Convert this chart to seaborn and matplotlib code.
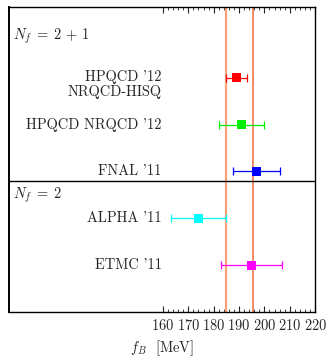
import numpy as np
import pandas as pd
import matplotlib
matplotlib.use("Agg")
import matplotlib.pyplot as plt
import seaborn as sns

# --- data ---
labels = ["HPQCD '12", "HPQCD NRQCD '12", "FNAL '11", "ALPHA '11", "ETMC '11"]
fB = [189.0, 191.0, 196.9, 174.0, 195.0]
err = [4.0, 9.0, 9.1, 11.0, 12.0]
rows = [5, 4, 3, 2, 1]
colors = ["#ff0000", "#00ee00", "#0000ff", "#00ffff", "#ff00ff"]
band = [185.0, 195.5]
xticks = [160, 170, 180, 190, 200, 210, 220]

df = pd.DataFrame({"label": labels, "fB": fB, "err": err, "row": rows})

sns.set_style("white")
plt.rcParams["font.family"] = "serif"
plt.rcParams["font.serif"] = ["cmr10", "DejaVu Serif"]
plt.rcParams["mathtext.fontset"] = "cm"
plt.rcParams["axes.formatter.use_mathtext"] = True

fig = plt.figure(figsize=(3.3, 3.57), dpi=100)
ax = fig.add_axes([0.028, 0.125, 0.927, 0.855])

# average band edges
ax.axvline(band[0], color="#f9a27a", lw=1.6, zorder=1)
ax.axvline(band[1], color="#ee6a3a", lw=1.1, zorder=1)

for i, r in df.iterrows():
    ax.errorbar(r["fB"], r["row"], xerr=r["err"], fmt="none", ecolor=colors[i],
                elinewidth=0.9, capsize=2.8, capthick=0.9, zorder=2)
sns.scatterplot(data=df, x="fB", y="row", hue="label", palette=colors, marker="s",
                s=38, edgecolor="none", legend=False, ax=ax, zorder=3)

# labels
fs = 10.4
for i, r in df.iterrows():
    y = r["row"]
    if i == 0:
        ax.text(159.5, y + 0.02, r["label"], ha="right", va="center", fontsize=fs)
        ax.text(159.5, y - 0.30, "NRQCD-HISQ", ha="right", va="center", fontsize=fs)
    else:
        ax.text(159.5, y, r["label"], ha="right", va="center", fontsize=fs)

ax.text(100.8, 5.87, r"$N_f \;=\; 2 \,+\, 1$", ha="left", va="center", fontsize=fs)
ax.text(100.8, 2.5, r"$N_f \;=\; 2$", ha="left", va="center", fontsize=fs)
ax.axhline(2.79, color="black", lw=1.0)

ax.set_xlim(99.4, 220)
ax.set_ylim(0, 6.5)
ax.set_xticks(xticks)
ax.set_xticks(np.arange(160, 221, 2), minor=True)
ax.set_yticks([])
ax.tick_params(axis="x", which="both", direction="in", top=True, bottom=True,
               labelsize=fs, pad=4)
ax.tick_params(axis="x", which="major", length=4, width=0.8)
ax.tick_params(axis="x", which="minor", length=2, width=0.6)
ax.set_xlabel(r"$f_B$  [MeV]", fontsize=fs, labelpad=4)
ax.set_ylabel("")
for s in ax.spines.values():
    s.set_color("black")
    s.set_linewidth(1.0)
ax.spines["left"].set_linewidth(1.4)

fig.savefig("out.png", dpi=100)
